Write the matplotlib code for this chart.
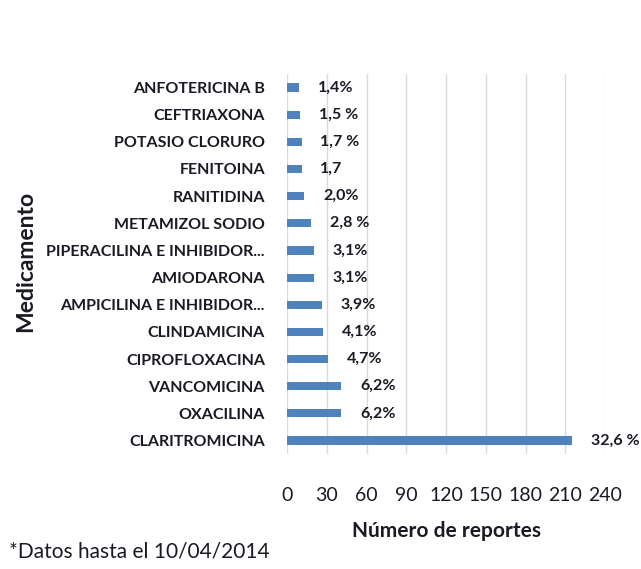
import matplotlib.pyplot as plt

# Data (counts estimated from the percentages)
medicamentos = ['CLARITROMICINA', 'OXACILINA', 'VANCOMICINA', 'CIPROFLOXACINA',
                'CLINDAMICINA', 'AMPICILINA E INHIBIDOR...', 'AMIODARONA',
                'PIPERACILINA E INHIBIDOR...', 'METAMIZOL SODIO', 'RANITIDINA',
                'FENITOINA', 'POTASIO CLORURO', 'CEFTRIAXONA', 'ANFOTERICINA B']
reportes = [215, 41, 41, 31, 27, 26, 20, 20, 18, 13, 11, 11, 10, 9]
etiquetas = ['32,6 %', '6,2%', '6,2%', '4,7%', '4,1%', '3,9%', '3,1%',
             '3,1%', '2,8 %', '2,0%', '1,7', '1,7 %', '1,5 %', '1,4%']
ticks = [0, 30, 60, 90, 120, 150, 180, 210, 240]

plt.rcParams['font.family'] = ['Lato', 'DejaVu Sans']
texto = '#1a1a24'

fig = plt.figure(figsize=(6.41, 5.69), dpi=100)
ax = fig.add_axes([0.448, 0.202, 0.496, 0.668])

y = range(len(medicamentos))
ax.barh(y, reportes, height=0.3, color='#4f81bd', zorder=3)
for i, (v, lab) in enumerate(zip(reportes, etiquetas)):
    ax.text(v + 14, i, lab, va='center', ha='left', fontsize=11.5,
            fontweight='bold', color=texto, zorder=4, clip_on=False)

ax.set_xlim(0, 240)
ax.set_ylim(-0.5, len(medicamentos) - 0.5)
ax.set_xticks(ticks)
ax.set_yticks(list(y))
ax.set_yticklabels(medicamentos, fontsize=11.5, fontweight='bold', color=texto)
ax.tick_params(axis='x', length=0, pad=24, labelsize=14, labelcolor=texto)
ax.tick_params(axis='y', length=0, pad=16)
ax.xaxis.grid(True, color='#d9d9d9', linewidth=1, zorder=0)
for s in ax.spines.values():
    s.set_visible(False)

ax.set_xlabel('Número de reportes', fontsize=15, fontweight='bold',
              color=texto, labelpad=12)
fig.text(0.04, 0.54, 'Medicamento', rotation=90, ha='center', va='center',
         fontsize=16.5, fontweight='bold', color=texto)
fig.text(0.014, 0.02, '*Datos hasta el 10/04/2014', fontsize=15, color=texto)

fig.savefig('out.png', dpi=100)
